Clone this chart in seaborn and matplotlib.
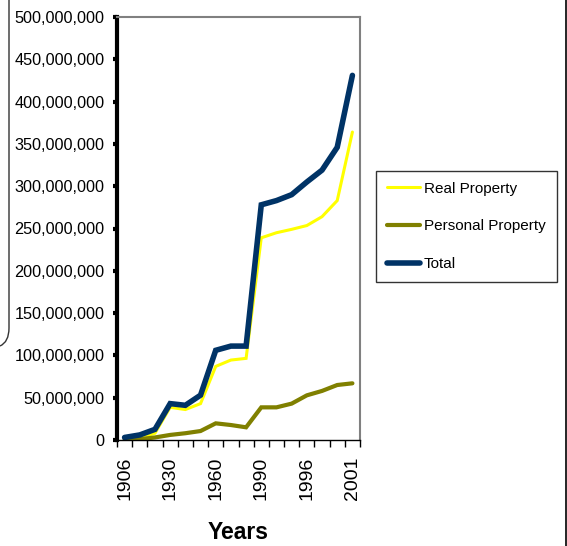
import seaborn as sns
import matplotlib.pyplot as plt
import pandas as pd
from matplotlib.lines import Line2D
from matplotlib.path import Path
from matplotlib.patches import PathPatch

# categories (only every 3rd label is shown on the axis)
years = ['1906', '1910', '1920', '1930', '1940', '1950', '1960', '1970',
         '1980', '1990', '1992', '1994', '1996', '1998', '2000', '2001']

realProperty = [1, 2, 8, 38.6, 36, 43, 87, 94.5, 96.5, 239, 245, 249, 253.5, 264, 283, 364]
personalProperty = [0, 1, 3, 6, 8, 10.6, 19.7, 17.7, 15, 38.6, 38.6, 43, 52.8, 58, 65, 67]
total = [3, 6, 12.6, 43, 41, 53, 106, 111, 111, 278, 283, 290, 305, 319, 346, 431]

seriesNames = ['Real Property', 'Personal Property', 'Total']
seriesColors = ['#FFFF00', '#808000', '#003366']
seriesWidths = [2.2, 3.0, 4.0]

sns.set_theme(style='white')
plt.rcParams['font.family'] = ['Liberation Sans', 'DejaVu Sans']

fig = plt.figure(figsize=(5.67, 5.46), dpi=100)
W, H = 567, 546
ax = fig.add_axes([117 / W, (H - 440) / H, (360 - 117) / W, (440 - 17) / H])

rows = []
for name, values in zip(seriesNames, [realProperty, personalProperty, total]):
    for i, v in enumerate(values):
        rows.append([i, v * 1e6, name])
df = pd.DataFrame(rows, columns=['x', 'y', 'series'])

for name, color, lw in zip(seriesNames, seriesColors, seriesWidths):
    sns.lineplot(x='x', y='y', data=df[df['series'] == name], ax=ax, color=color,
                 linewidth=lw, estimator=None, label=name, solid_joinstyle='miter')

ax.set_xlim(-0.5, len(years) - 0.5)
ax.set_ylim(0, 500e6)

# y axis
yticks = list(range(0, 500000001, 50000000))
ax.set_yticks(yticks)
ax.set_yticklabels([f'{t:,}' for t in yticks], fontsize=11.7, color='black')
ax.tick_params(axis='y', direction='out', length=3, width=3, color='black', pad=6, left=True)

# x axis
ax.set_xticks(range(0, len(years), 3))
ax.set_xticklabels(years[::3], rotation=90, fontsize=14, color='black', va='top')
ax.set_xticks([i - 0.5 for i in range(len(years) + 1)], minor=True)
ax.tick_params(axis='x', which='major', length=0, pad=12)
ax.tick_params(axis='x', which='minor', direction='out', length=5, width=1, color='black', bottom=True)

ax.set_xlabel('Years', fontsize=16.5, fontweight='bold', color='black')
ax.xaxis.set_label_coords(0.5, -0.192)
ax.set_ylabel('')

ax.spines['left'].set_color('black')
ax.spines['left'].set_linewidth(3)
ax.spines['bottom'].set_color('black')
ax.spines['bottom'].set_linewidth(1)
ax.spines['top'].set_color('#808080')
ax.spines['top'].set_linewidth(1.5)
ax.spines['right'].set_color('#808080')
ax.spines['right'].set_linewidth(1.5)
ax.grid(False)

leg = ax.legend(loc='upper left', bbox_to_anchor=(376 / W, (H - 171) / H),
                bbox_transform=fig.transFigure, borderaxespad=0, fontsize=11,
                frameon=True, fancybox=False, edgecolor='black', handlelength=2.2,
                handletextpad=0.25, labelspacing=1.55, borderpad=0.7)
leg.get_frame().set_linewidth(1)
for t in leg.get_texts():
    t.set_color('black')

# slide decorations around the chart
fig.add_artist(Line2D([565.5 / W, 565.5 / W], [0, 1], color='black', linewidth=1.2,
                      transform=fig.transFigure))
verts = [(9 / W, 1), (9 / W, (H - 328) / H), (9 / W, (H - 342) / H), (0, (H - 346) / H)]
codes = [Path.MOVETO, Path.LINETO, Path.CURVE3, Path.CURVE3]
fig.add_artist(PathPatch(Path(verts, codes), fill=False, edgecolor='#333333', linewidth=1.0,
                         transform=fig.transFigure))

fig.savefig('out.png', dpi=100)
